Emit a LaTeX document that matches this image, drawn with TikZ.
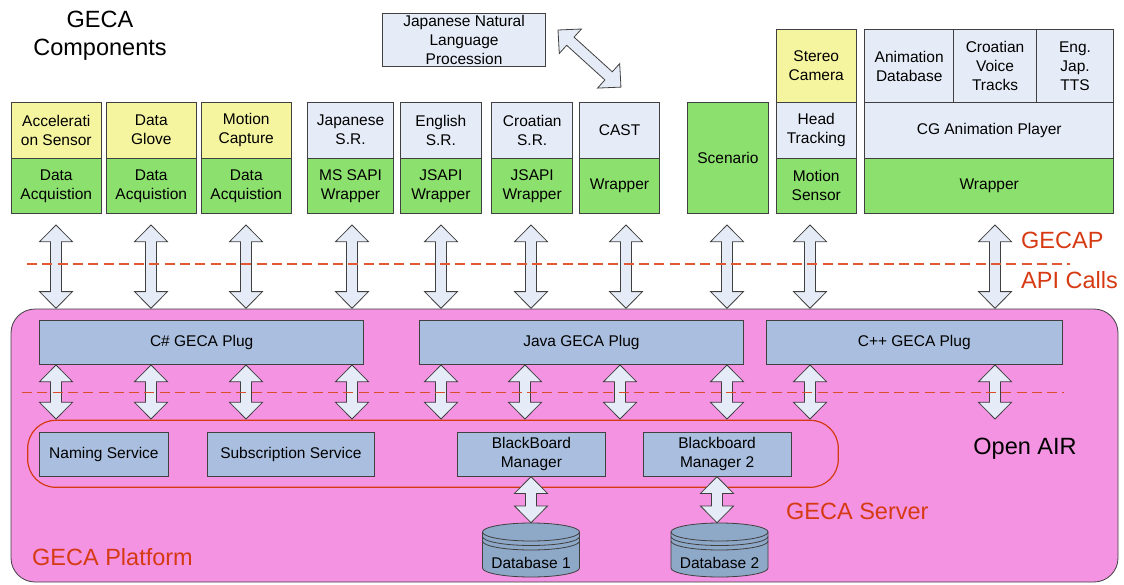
\documentclass[tikz,border=0pt]{standalone}
\usepackage{fontspec}
\setmainfont{Liberation Sans}
\usepackage{tikz}
\usetikzlibrary{calc}

\definecolor{cyel}{RGB}{245,245,160}
\definecolor{cgrn}{RGB}{140,224,110}
\definecolor{cblu}{RGB}{230,236,247}
\definecolor{cplug}{RGB}{170,191,223}
\definecolor{cpink}{RGB}{243,147,225}
\definecolor{cred}{RGB}{214,58,18}
\definecolor{cdash}{RGB}{226,88,50}
\definecolor{cdb}{RGB}{142,168,200}

\tikzset{
  box/.style={draw=black!75, line width=0.8pt, anchor=north west, inner sep=0pt,
    align=center, font=\fontsize{15.5}{19}\selectfont},
  ylw/.style={fill=cyel},
  grn/.style={fill=cgrn},
  blu/.style={fill=cblu},
  plug/.style={fill=cplug},
  bigtxt/.style={inner sep=0pt, align=center, font=\fontsize{23.5}{28}\selectfont},
  redtxt/.style={bigtxt, text=cred, anchor=west},
  arrowfill/.style={draw=black!75, line width=0.8pt, fill=cblu},
  sep/.style={draw=cdash, line width=1.3pt, dash pattern=on 10pt off 5.3pt},
  pics/dblarr/.style={code={
    \draw[arrowfill] (0,0) -- (16.5,16.7) -- (5.5,16.7) -- (5.5,#1-16.7) -- (16.5,#1-16.7)
      -- (0,#1) -- (-16.5,#1-16.7) -- (-5.5,#1-16.7) -- (-5.5,16.7) -- (-16.5,16.7) -- cycle;
  }}
}

\begin{document}
\begin{tikzpicture}[x=1pt, y=-1pt]

  \useasboundingbox (0,0) rectangle (1124,584);

  \newcommand\blk[7]{\node[box,#2,minimum width=#5pt,minimum height=#6pt] (#1) at (#3,#4) {#7};}
  \newcommand\dbase[3]{%
    \draw[fill=cdb, draw=black!75, line width=0.8pt] (#2-48.5,532) -- (#2-48.5,568)
      arc[start angle=180, end angle=360, x radius=48.5pt, y radius=9pt] -- (#2+48.5,532)
      arc[start angle=0, end angle=180, x radius=48.5pt, y radius=9pt] -- cycle;
    \draw[draw=black!75, line width=0.8pt] (#2-48.5,532) arc[start angle=180, end angle=360, x radius=48.5pt, y radius=9pt];
    \draw[draw=black!75, line width=0.8pt] (#2-48.5,536.5) arc[start angle=180, end angle=360, x radius=48.5pt, y radius=9pt];
    \draw[draw=black!75, line width=0.8pt] (#2-48.5,541) arc[start angle=180, end angle=360, x radius=48.5pt, y radius=9pt];
    \node[inner sep=0pt, font=\fontsize{15.5}{19}\selectfont] (#1) at (#2,563) {#3};}

  % platform
  \draw[fill=cpink, draw=black!75, line width=0.8pt, rounded corners=24pt] (11,309) rectangle (1118,582);

  % plugs
  \blk{csplug}{plug}{39.3}{320}{324}{44.3}{C\# GECA Plug}
  \blk{javaplug}{plug}{419.3}{320}{323.4}{44.3}{Java GECA Plug}
  \blk{cppplug}{plug}{765.7}{320}{296.3}{44.3}{C++ GECA Plug}

  % server
  \draw[draw=cred, line width=1.2pt, rounded corners=28pt] (27.7,420.3) rectangle (838.3,487.3);
  \blk{naming}{plug}{39.3}{431.7}{128.4}{44.3}{Naming Service}
  \blk{subscr}{plug}{206.7}{431.7}{167.6}{44.3}{Subscription Service}
  \blk{bbm}{plug}{457}{431.7}{148}{44.3}{BlackBoard\\Manager}
  \blk{bbmtwo}{plug}{642.7}{431.7}{148}{44.3}{Blackboard\\Manager 2}

  % databases
  \dbase{dbone}{531}{Database 1}
  \dbase{dbtwo}{719.5}{Database 2}

  % components
  \blk{acc}{ylw}{11}{101.7}{89.7}{56}{Accelerati\\on Sensor}
  \blk{accdaq}{grn}{11}{157.7}{89.7}{55.6}{Data\\Acquistion}
  \blk{glove}{ylw}{106}{101.7}{89.7}{56}{Data\\Glove}
  \blk{glovedaq}{grn}{106}{157.7}{89.7}{55.6}{Data\\Acquistion}
  \blk{mocap}{ylw}{201}{101.7}{89.7}{56}{Motion\\Capture}
  \blk{mocapdaq}{grn}{201}{157.7}{89.7}{55.6}{Data\\Acquistion}
  \blk{jsr}{blu}{307}{101.7}{86.3}{56}{Japanese\\S.R.}
  \blk{jsrwrap}{grn}{307}{157.7}{86.3}{55.6}{MS SAPI\\Wrapper}
  \blk{esr}{blu}{400.3}{101.7}{80.4}{56}{English\\S.R.}
  \blk{esrwrap}{grn}{400.3}{157.7}{80.4}{55.6}{JSAPI\\Wrapper}
  \blk{csr}{blu}{491.3}{101.7}{81}{56}{Croatian\\S.R.}
  \blk{csrwrap}{grn}{491.3}{157.7}{81}{55.6}{JSAPI\\Wrapper}
  \blk{cast}{blu}{579}{101.7}{80.3}{56}{CAST}
  \blk{castwrap}{grn}{579}{157.7}{80.3}{55.6}{Wrapper}
  \blk{scen}{grn}{687.3}{102.3}{80.4}{111}{Scenario}
  \blk{stereo}{ylw}{775.7}{29.3}{80.3}{72.7}{Stereo\\Camera}
  \blk{head}{blu}{775.7}{102}{80.3}{55.7}{Head\\Tracking}
  \blk{msens}{grn}{775.7}{157.7}{80.3}{55.6}{Motion\\Sensor}
  \blk{anidb}{blu}{864.3}{29.3}{89}{72.7}{Animation\\Database}
  \blk{voice}{blu}{953.3}{29.3}{82.7}{72.7}{Croatian\\Voice\\Tracks}
  \blk{tts}{blu}{1036}{29.3}{77.3}{72.7}{Eng.\\Jap.\\TTS}
  \blk{cgplayer}{blu}{864.3}{102}{249}{55.7}{CG Animation Player}
  \blk{cgwrap}{grn}{864.3}{157.7}{249}{55.6}{Wrapper}
  \blk{jnlp}{blu}{382.3}{12.7}{162.7}{53.3}{Japanese Natural\\Language\\Procession}

  % GECAP calls
  \foreach \x in {56,151,246,352,441,531,626,727,810,995}
    \pic at (\x,225) {dblarr=83.3};
  % plug calls
  \foreach \x in {56,151,246,352,441,525,620,727,810,995}
    \pic at (\x,365) {dblarr=54};
  \pic at (531,476.7) {dblarr=46};
  \pic at (717,476.7) {dblarr=46};
  \pic[rotate=47.8] at (558,30) {dblarr=85};

  \draw[sep] (27,264) -- (1070,264);
  \draw[sep, draw=cred!90] (22,392.3) -- (1064,392.3);

  % labels
  \node[bigtxt] (title) at (100,36) {GECA\\Components};
  \node[redtxt] (gecap) at (1021,240) {GECAP};
  \node[redtxt] (apicalls) at (1021,280) {API Calls};
  \node[bigtxt] (openair) at (1025,449) {Open AIR};
  \node[redtxt] (server) at (786,511) {GECA Server};
  \node[redtxt] (platform) at (32,557) {GECA Platform};

\end{tikzpicture}
\end{document}
